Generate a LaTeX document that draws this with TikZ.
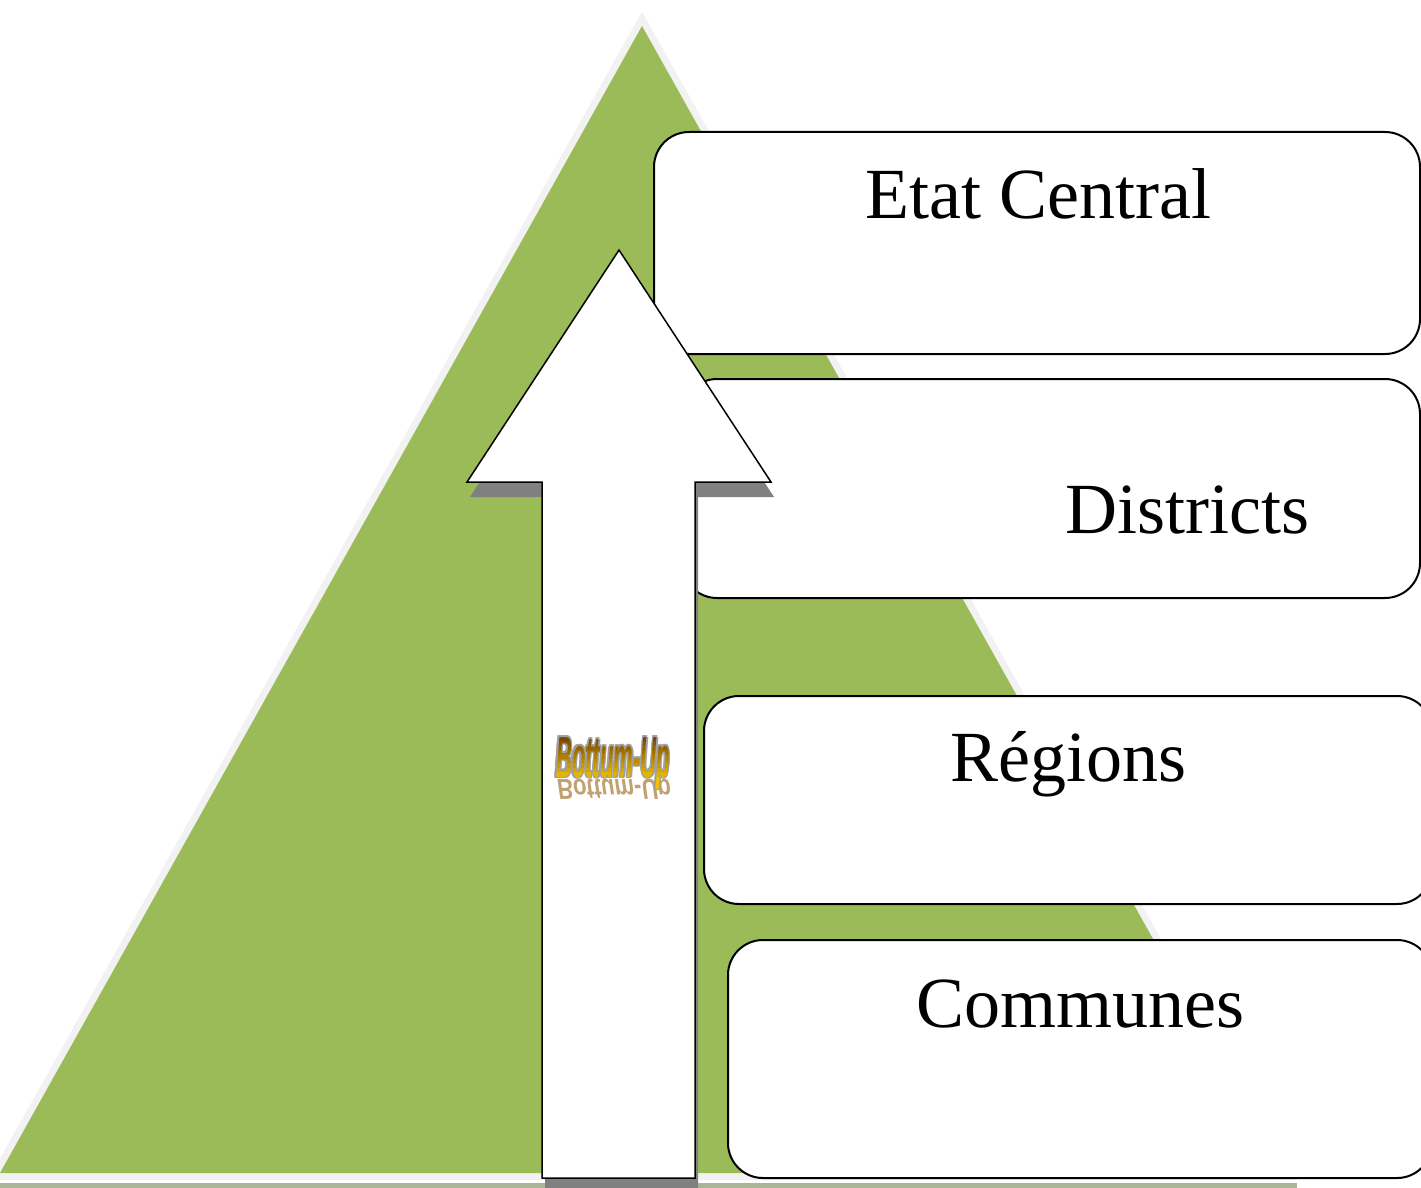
\documentclass[tikz,border=0pt]{standalone}
\usepackage{fontspec}
\usepackage{graphicx}
\setmainfont{Liberation Serif}
\newfontfamily\wordartfont{Liberation Sans}

\definecolor{pyramidgreen}{HTML}{9BBB59}
\definecolor{rimgray}{HTML}{F2F2F2}
\definecolor{shadowgray}{HTML}{808080}
\definecolor{groundline}{HTML}{A9B596}
\definecolor{artbrown}{HTML}{6B3A00}
\definecolor{artgold}{HTML}{F2C200}
\definecolor{arthalo}{HTML}{A0A0A0}
\definecolor{reflecttan}{HTML}{B89058}

\newcommand\bottomuptext[1]{\scalebox{0.38}[#1]{\wordartfont\bfseries\itshape\fontsize{58}{60}\selectfont Bottum-Up}}

\tikzset{
  levelbox/.style={rectangle, draw=black, line width=2pt, fill=white,
    rounded corners=35pt, inner sep=0pt, outer sep=0pt, anchor=north west},
  leveltext/.style={font=\fontsize{72}{80}\selectfont, anchor=base, inner sep=0pt},
  wordart/.style={anchor=base, inner sep=0pt, outer sep=0pt},
  upshape/.style={draw=black, fill=white, line width=1.5pt, line join=miter},
}

\begin{document}
\begin{tikzpicture}[x=1pt,y=-1pt]
\useasboundingbox (0,0) rectangle (1421,1188);
\clip (0,0) rectangle (1421,1188);

% ground line under the pyramid
\fill[groundline] (0,1182.5) rectangle (1297,1188);

% pyramid with its light rim
\draw[rimgray, line width=14pt, line join=miter] (642,26) -- (1284,1173) -- (0,1173) -- cycle;
\fill[pyramidgreen] (642,26) -- (1284,1173) -- (0,1173) -- cycle;

% levels
\node[levelbox, minimum width=766pt, minimum height=222pt] (etat) at (654,132) {};
\node[levelbox, minimum width=738pt, minimum height=219pt] (districts) at (682,379) {};
\node[levelbox, minimum width=728pt, minimum height=208pt] (regions) at (704,696) {};
\node[levelbox, minimum width=704pt, minimum height=238pt] (communes) at (728,940) {};

\node[leveltext] (etatlabel) at (1038,218) {Etat Central};
\node[leveltext] (districtslabel) at (1187,533) {Districts};
\node[leveltext] (regionslabel) at (1068,781) {Régions};
\node[leveltext] (communeslabel) at (1080,1027) {Communes};

% upward arrow with its drop shadow
\begin{scope}[shift={(3,15)}]
  \fill[shadowgray] (619,250) -- (771,482) -- (695,482) -- (695,1178)
    -- (542,1178) -- (542,482) -- (467,482) -- cycle;
\end{scope}
\draw[upshape] (619,250) -- (771,482) -- (695,482) -- (695,1178)
  -- (542,1178) -- (542,482) -- (467,482) -- cycle;

% "Bottum-Up" word art: reflection, halo, then gradient bands
\node[wordart, text=reflecttan, opacity=0.85] (bureflect) at (614,779) {\bottomuptext{-0.5}};
\foreach \dx/\dy [count=\k] in {-1.5/0, 1.5/0, 0/-1.5, 0/1.5, -1.1/-1.1, 1.1/-1.1, -1.1/1.1, 1.1/1.1} {
  \node[wordart, text=arthalo] (buhalo\k) at ({613+\dx},{777+\dy}) {\bottomuptext{1}};
}
\foreach \i in {0,...,12} {
  \pgfmathtruncatemacro\pct{min(100,\i*100/10)}
  \begin{scope}
    \clip (540,{732+4.5*\i}) rectangle (690,{736.7+4.5*\i});
    \node[wordart, text=artgold!\pct!artbrown] (buband\i) at (613,777) {\bottomuptext{1}};
  \end{scope}
}
\end{tikzpicture}
\end{document}
